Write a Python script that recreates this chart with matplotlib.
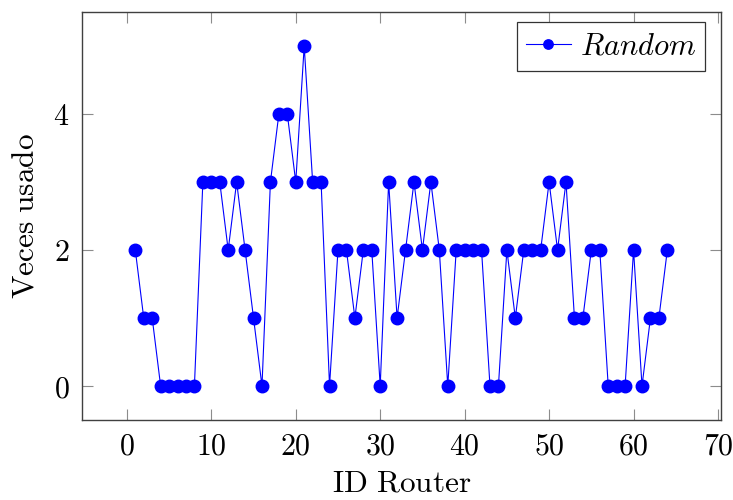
import numpy as np
import matplotlib
matplotlib.use("Agg")
import matplotlib.pyplot as plt

plt.rcParams['mathtext.fontset'] = 'cm'
plt.rcParams['font.family'] = 'serif'
plt.rcParams['font.serif'] = ['DejaVu Serif']

# Datos
router_id = np.arange(1, 65)
veces = [2, 1, 1, 0, 0, 0, 0, 0, 3, 3,
         3, 2, 3, 2, 1, 0, 3, 4, 4, 3,
         5, 3, 3, 0, 2, 2, 1, 2, 2, 0,
         3, 1, 2, 3, 2, 3, 2, 0, 2, 2,
         2, 2, 0, 0, 2, 1, 2, 2, 2, 3,
         2, 3, 1, 1, 2, 2, 0, 0, 0, 2,
         0, 1, 1, 2]
xticks = [0, 10, 20, 30, 40, 50, 60, 70]
yticks = [0, 2, 4]

fig = plt.figure(figsize=(7.33, 5.0), dpi=100)
ax = fig.add_axes([0.112, 0.16, 0.871, 0.816])

ax.plot(router_id, veces, color='blue', marker='o', markersize=9,
        linewidth=0.8, label=r'$Random$')

# limites como en pgfplots (10% extra)
ax.set_xlim(1 - 6.3, 64 + 6.3)
ax.set_ylim(-0.5, 5.5)
ax.set_xticks(xticks)
ax.set_yticks(yticks)
ax.set_xticklabels([r'$%d$' % t for t in xticks])
ax.set_yticklabels([r'$%d$' % t for t in yticks])
ax.tick_params(direction='in', top=True, right=True, length=8, width=0.8,
               color='0.55', labelsize=21.5, pad=9)
for s in ax.spines.values():
    s.set_linewidth(1.0)
    s.set_color('0.25')

ax.set_xlabel(r'$\mathrm{ID\ Router}$', fontsize=22.5, labelpad=5)
ax.set_ylabel(r'$\mathrm{Veces\ usado}$', fontsize=22.5, labelpad=9)

leg = ax.legend(loc='upper right', bbox_to_anchor=(0.976, 0.976),
                fontsize=22, fancybox=False,
                edgecolor='0.2', framealpha=1, handlelength=1.45,
                handletextpad=0.3, borderpad=0.3, borderaxespad=0,
                markerscale=0.75)
leg.get_frame().set_linewidth(0.9)

plt.savefig('out.png', dpi=100)
